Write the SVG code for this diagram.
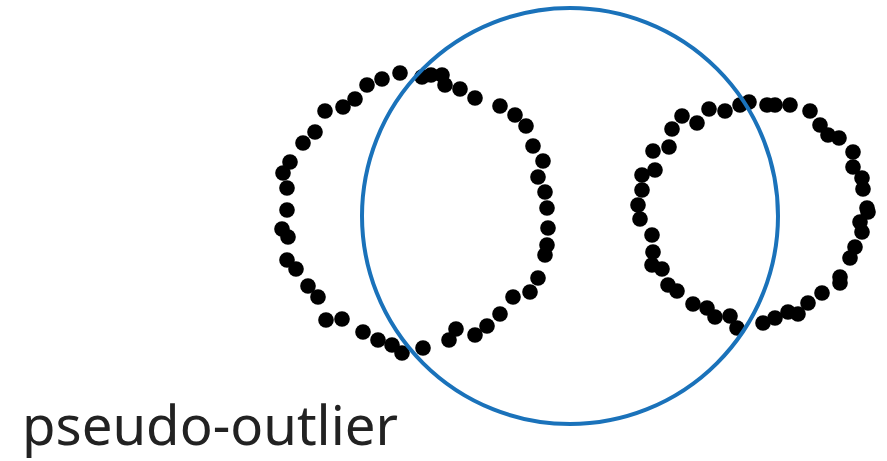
<svg xmlns="http://www.w3.org/2000/svg" width="887" height="461" viewBox="0 0 887 461">
<style>
.d{fill:#000}
.c{fill:none;stroke:#1a72ba;stroke-width:4}
.t{font-family:"Noto Sans","Open Sans",sans-serif;font-size:55px;fill:#222}
</style>
<rect width="887" height="461" fill="#fff"/>
<g id="left-ring" class="d">
<circle cx="400" cy="73" r="7.8"/><circle cx="382" cy="79" r="7.8"/><circle cx="367" cy="85" r="7.8"/>
<circle cx="422" cy="77" r="7.8"/><circle cx="431" cy="75" r="7.8"/><circle cx="442" cy="75" r="7.8"/>
<circle cx="445" cy="85" r="7.8"/><circle cx="460" cy="89" r="7.8"/><circle cx="475" cy="98" r="7.8"/>
<circle cx="500" cy="106" r="7.8"/><circle cx="515" cy="115" r="7.8"/><circle cx="526" cy="126" r="7.8"/>
<circle cx="533" cy="146" r="7.8"/><circle cx="543" cy="161" r="7.8"/><circle cx="538" cy="177" r="7.8"/>
<circle cx="545" cy="192" r="7.8"/><circle cx="547" cy="208" r="7.8"/>
<circle cx="355" cy="99" r="7.8"/><circle cx="343" cy="107" r="7.8"/><circle cx="325" cy="111" r="7.8"/>
<circle cx="315" cy="132" r="7.8"/><circle cx="303" cy="143" r="7.8"/><circle cx="290" cy="162" r="7.8"/>
<circle cx="283" cy="173" r="7.8"/><circle cx="287" cy="188" r="7.8"/><circle cx="287" cy="210" r="7.8"/>
<circle cx="282" cy="229" r="7.8"/><circle cx="288" cy="237" r="7.8"/><circle cx="287" cy="260" r="7.8"/>
<circle cx="296" cy="269" r="7.8"/><circle cx="308" cy="286" r="7.8"/><circle cx="318" cy="297" r="7.8"/>
<circle cx="326" cy="320" r="7.8"/><circle cx="342" cy="319" r="7.8"/><circle cx="363" cy="332" r="7.8"/>
<circle cx="378" cy="340" r="7.8"/><circle cx="392" cy="345" r="7.8"/><circle cx="402" cy="353" r="7.8"/>
<circle cx="423" cy="348" r="7.8"/><circle cx="449" cy="340" r="7.8"/><circle cx="456" cy="329" r="7.8"/>
<circle cx="475" cy="335" r="7.8"/><circle cx="487" cy="326" r="7.8"/><circle cx="500" cy="314" r="7.8"/>
<circle cx="513" cy="297" r="7.8"/><circle cx="530" cy="292" r="7.8"/><circle cx="538" cy="278" r="7.8"/>
<circle cx="545" cy="255" r="7.8"/><circle cx="547" cy="245" r="7.8"/><circle cx="548" cy="228" r="7.8"/>
</g>
<g id="right-ring" class="d">
<circle cx="749" cy="102" r="7.8"/><circle cx="740" cy="105" r="7.8"/><circle cx="767" cy="105" r="7.8"/>
<circle cx="775" cy="105" r="7.8"/><circle cx="790" cy="105" r="7.8"/><circle cx="810" cy="111" r="7.8"/>
<circle cx="820" cy="125" r="7.8"/><circle cx="828" cy="135" r="7.8"/><circle cx="839" cy="138" r="7.8"/>
<circle cx="853" cy="152" r="7.8"/><circle cx="853" cy="167" r="7.8"/><circle cx="862" cy="178" r="7.8"/>
<circle cx="863" cy="189" r="7.8"/><circle cx="867" cy="208" r="7.8"/>
<circle cx="725" cy="111" r="7.8"/><circle cx="709" cy="109" r="7.8"/><circle cx="697" cy="123" r="7.8"/>
<circle cx="682" cy="116" r="7.8"/><circle cx="672" cy="129" r="7.8"/><circle cx="669" cy="147" r="7.8"/>
<circle cx="653" cy="151" r="7.8"/><circle cx="655" cy="170" r="7.8"/><circle cx="642" cy="175" r="7.8"/>
<circle cx="642" cy="190" r="7.8"/><circle cx="638" cy="205" r="7.8"/><circle cx="640" cy="219" r="7.8"/>
<circle cx="652" cy="235" r="7.8"/><circle cx="653" cy="252" r="7.8"/><circle cx="652" cy="265" r="7.8"/>
<circle cx="662" cy="269" r="7.8"/><circle cx="668" cy="285" r="7.8"/><circle cx="677" cy="291" r="7.8"/>
<circle cx="693" cy="304" r="7.8"/><circle cx="707" cy="308" r="7.8"/><circle cx="715" cy="317" r="7.8"/>
<circle cx="730" cy="316" r="7.8"/><circle cx="737" cy="328" r="7.8"/><circle cx="763" cy="323" r="7.8"/>
<circle cx="775" cy="318" r="7.8"/><circle cx="788" cy="312" r="7.8"/><circle cx="798" cy="314" r="7.8"/>
<circle cx="808" cy="303" r="7.8"/><circle cx="822" cy="293" r="7.8"/><circle cx="840" cy="277" r="7.8"/>
<circle cx="840" cy="283" r="7.8"/><circle cx="850" cy="258" r="7.8"/><circle cx="855" cy="247" r="7.8"/>
<circle cx="862" cy="232" r="7.8"/><circle cx="860" cy="222" r="7.8"/><circle cx="868" cy="212" r="7.8"/>
</g>
<g id="circle"><circle class="c" cx="570" cy="216" r="208"/></g>
<g id="label"><text class="t" x="22" y="445" textLength="376" lengthAdjust="spacingAndGlyphs">pseudo-outlier</text></g>
</svg>
